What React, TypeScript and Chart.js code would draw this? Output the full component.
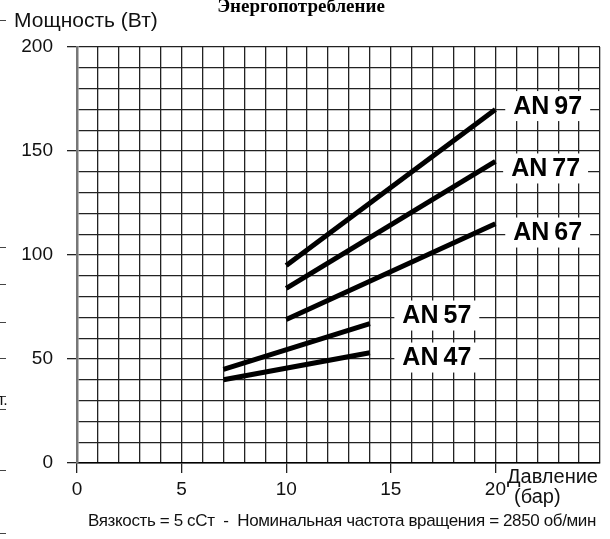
import React, { useEffect, useRef } from "react";
import { Chart, registerables } from "chart.js";

Chart.register(...registerables);

// ---- data ----
const models = ["AN 97", "AN 77", "AN 67", "AN 57", "AN 47"];
const pressureFrom = [10, 10, 10, 7, 7];
const pressureTo = [20, 20, 20, 14, 14];
const powerFrom = [95, 84, 69, 45, 40];
const powerTo = [170, 145, 115, 67, 53];
const labelPressure = [22.5, 22.4, 22.5, 17.2, 17.2];
const labelPower = [171.6, 141.6, 110.8, 70.9, 50.7];
const xTickLabels = [0, 5, 10, 15, 20];
const yTickLabels = [0, 50, 100, 150, 200];

const titleText = "Энергопотребление";
const yTitle = "Мощность (Вт)";
const xTitle1 = "Давление";
const xTitle2 = "(бар)";
const footnote = "Вязкость = 5 сСт  -  Номинальная частота вращения = 2850 об/мин";

const SANS = "'Liberation Sans', Arial, sans-serif";

const W = 610;
const H = 539;

const decorPlugin = {
  id: "decor",
  afterDatasetsDraw(chart: any) {
    const ctx = chart.ctx;
    const xs = chart.scales.x;
    const ys = chart.scales.y;
    ctx.save();
    ctx.font = `bold 25px ${SANS}`;
    ctx.textAlign = "center";
    ctx.textBaseline = "middle";
    models.forEach((m, i) => {
      const txt = m.replace(" ", "\u2009");
      const px = xs.getPixelForValue(labelPressure[i]);
      const py = ys.getPixelForValue(labelPower[i]);
      const w = ctx.measureText(txt).width;
      ctx.fillStyle = "#fff";
      ctx.fillRect(px - w / 2 - 8, py - 15, w + 16, 30);
      ctx.fillStyle = "#000";
      ctx.fillText(txt, px, py + 1);
    });
    ctx.restore();
  },
  afterDraw(chart: any) {
    const ctx = chart.ctx;
    ctx.save();
    // title (clipped at top)
    ctx.fillStyle = "#000";
    ctx.font = `bold 19px 'Liberation Serif', 'Times New Roman', serif`;
    ctx.textAlign = "center";
    ctx.textBaseline = "alphabetic";
    ctx.fillText(titleText, 301, 12);

    // y axis title
    ctx.fillStyle = "#111";
    ctx.font = `21px ${SANS}`;
    ctx.textAlign = "left";
    ctx.textBaseline = "middle";
    ctx.fillText(yTitle, 14, 21);

    // x axis title
    ctx.font = `20px ${SANS}`;
    ctx.fillText(xTitle1, 507, 477);
    ctx.fillText(xTitle2, 514, 497);

    // footnote
    ctx.font = `17px ${SANS}`;
    const target = 508;
    const natural = ctx.measureText(footnote).width;
    const ls = (target - natural) / footnote.length;
    (ctx as any).letterSpacing = `${ls}px`;
    ctx.textAlign = "left";
    ctx.fillText(footnote, 88, 521);
    (ctx as any).letterSpacing = "0px";

    // left edge fragments
    ctx.strokeStyle = "#444";
    ctx.lineWidth = 1;
    [20, 247, 284, 322, 358, 396, 409, 470, 533].forEach((y) => {
      ctx.beginPath();
      ctx.moveTo(0, y + 0.5);
      ctx.lineTo(6, y + 0.5);
      ctx.stroke();
    });
    ctx.font = `16px ${SANS}`;
    ctx.fillStyle = "#111";
    ctx.fillText("л.", -6, 401);
    ctx.restore();
  },
};

export default function App() {
  const ref = useRef<HTMLCanvasElement | null>(null);
  useEffect(() => {
    document.body.style.margin = "0";
    const canvas = ref.current!;
    const datasets = models.map((m, i) => ({
      label: m,
      data: [
        { x: pressureFrom[i], y: powerFrom[i] },
        { x: pressureTo[i], y: powerTo[i] },
      ],
      borderColor: "#000",
      borderWidth: 5,
      pointRadius: 0,
      borderCapStyle: "butt" as const,
      fill: false,
    }));
    const chart = new Chart(canvas, {
      type: "line",
      data: { datasets },
      plugins: [decorPlugin],
      options: {
        animation: false,
        responsive: false,
        devicePixelRatio: 1,
        layout: { padding: { top: 47, right: 10, left: 0, bottom: 0 } },
        plugins: { legend: { display: false }, tooltip: { enabled: false }, title: { display: false } },
        scales: {
          x: {
            type: "linear",
            min: 0,
            max: 25,
            afterFit: (s: any) => {
              s.height = 76;
            },
            ticks: {
              stepSize: 1,
              autoSkip: false,
              maxRotation: 0,
              padding: 5,
              color: "#111",
              font: { family: SANS, size: 19 },
              callback: (v: any) => (xTickLabels.includes(Number(v)) ? String(v) : ""),
            },
            grid: {
              color: "#222",
              lineWidth: 1.3,
              tickLength: 10,
              tickColor: (c: any) =>
                c.tick && xTickLabels.includes(Number(c.tick.value)) ? "#222" : "rgba(0,0,0,0)",
            },
            border: { display: true, color: "#000", width: 1.5 },
          },
          y: {
            type: "linear",
            min: 0,
            max: 200,
            afterFit: (s: any) => {
              s.width = 77;
            },
            ticks: {
              stepSize: 10,
              autoSkip: false,
              padding: 14,
              color: "#111",
              font: { family: SANS, size: 19 },
              callback: (v: any) => (yTickLabels.includes(Number(v)) ? String(v) : ""),
            },
            grid: {
              color: "#222",
              lineWidth: 1.3,
              tickLength: 10,
              tickColor: (c: any) =>
                c.tick && yTickLabels.includes(Number(c.tick.value)) ? "#222" : "rgba(0,0,0,0)",
            },
            border: { display: true, color: "#777", width: 2.5 },
          },
        },
      },
    });
    return () => chart.destroy();
  }, []);
  return <canvas ref={ref} width={W} height={H} style={{ display: "block", width: W, height: H }} />;
}
